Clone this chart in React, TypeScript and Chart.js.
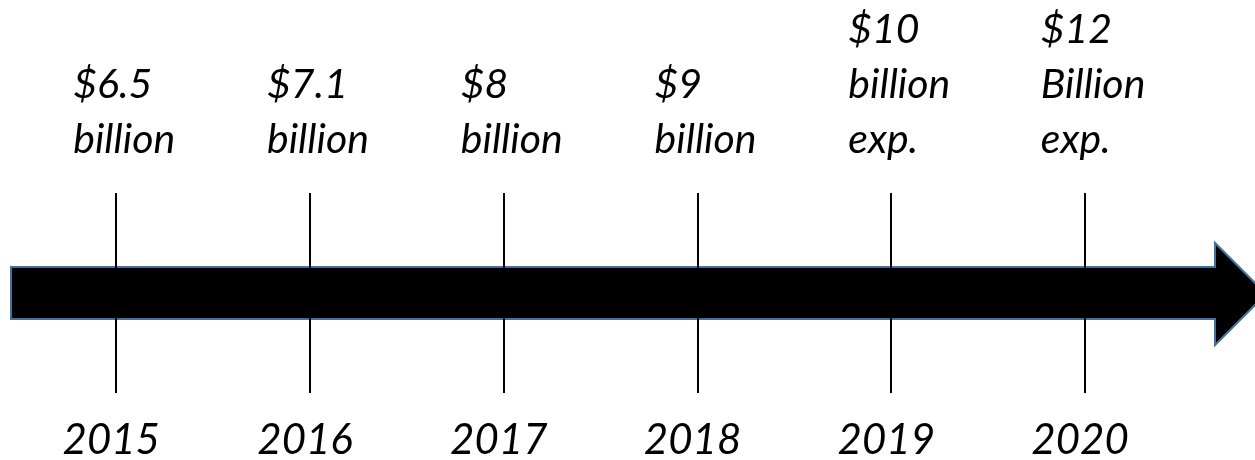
import React, { useEffect, useRef } from "react";
import { Chart, registerables } from "chart.js";

Chart.register(...registerables);

const years = [2015, 2016, 2017, 2018, 2019, 2020];
const amountLabels = ["$6.5", "$7.1", "$8", "$9", "$10", "$12"];
const unitLabels = ["billion", "billion", "billion", "billion", "billion", "Billion"];
const noteLabels = ["", "", "", "", "exp.", "exp."];
const amountValues = [6.5, 7.1, 8, 9, 10, 12];

const timelinePlugin = {
  id: "timeline",
  afterDraw(chart: any) {
    const ctx = chart.ctx as CanvasRenderingContext2D;
    const xs = chart.scales.x;
    ctx.save();

    // arrow
    const bodyLeft = 11;
    const bodyTop = 267;
    const bodyBottom = 319;
    const headX = 1215;
    const headTop = 243;
    const headBottom = 345;
    const midY = (headTop + headBottom) / 2;
    const tipX = headX + (headBottom - headTop) / 2;
    ctx.beginPath();
    ctx.moveTo(bodyLeft, bodyTop);
    ctx.lineTo(headX, bodyTop);
    ctx.lineTo(headX, headTop);
    ctx.lineTo(tipX, midY);
    ctx.lineTo(headX, headBottom);
    ctx.lineTo(headX, bodyBottom);
    ctx.lineTo(bodyLeft, bodyBottom);
    ctx.closePath();
    ctx.fillStyle = "#000000";
    ctx.fill();
    ctx.lineWidth = 2;
    ctx.strokeStyle = "#41719C";
    ctx.lineJoin = "miter";
    ctx.stroke();

    // ticks
    ctx.strokeStyle = "#000000";
    ctx.lineWidth = 2;
    years.forEach((yr) => {
      const x = Math.round(xs.getPixelForValue(yr));
      ctx.beginPath();
      ctx.moveTo(x, 193);
      ctx.lineTo(x, 393);
      ctx.stroke();
    });

    // value labels
    ctx.fillStyle = "#000000";
    ctx.textBaseline = "alphabetic";
    ctx.font = "italic 41px Lato";
    ctx.textAlign = "left";
    years.forEach((yr, i) => {
      const x = xs.getPixelForValue(yr);
      const lines = [amountLabels[i], unitLabels[i], noteLabels[i]].filter((s) => s);
      const widest = Math.max(...lines.map((s) => ctx.measureText(s).width));
      const left = x + 8 - widest / 2;
      const lastBaseline = 153;
      lines.forEach((s, j) => {
        const y = lastBaseline - (lines.length - 1 - j) * 55;
        ctx.fillText(s, left, y);
      });
    });

    // year labels
    ctx.font = "italic 42px Lato";
    ctx.textAlign = "center";
    years.forEach((yr) => {
      const x = xs.getPixelForValue(yr);
      ctx.fillText(String(yr), x - 5, 454);
    });

    ctx.restore();
  },
};

export default function App() {
  const canvasRef = useRef<HTMLCanvasElement | null>(null);

  useEffect(() => {
    document.body.style.margin = "0";
    const canvas = canvasRef.current;
    if (!canvas) return;
    const chart = new Chart(canvas, {
      type: "scatter",
      data: {
        datasets: [
          {
            label: "Market size (USD billion)",
            data: years.map((yr, i) => ({ x: yr, y: amountValues[i] })),
            pointRadius: 0,
            pointHoverRadius: 0,
            showLine: false,
          },
        ],
      },
      options: {
        responsive: false,
        animation: false,
        events: [],
        layout: { padding: 0 },
        plugins: {
          legend: { display: false },
          tooltip: { enabled: false },
          title: { display: false },
        },
        scales: {
          x: {
            type: "linear",
            display: false,
            min: 2014.4,
            max: 2020.877,
          },
          y: {
            type: "linear",
            display: false,
            min: 0,
            max: 100,
          },
        },
      },
      plugins: [timelinePlugin],
    });
    if ((document as any).fonts && (document as any).fonts.load) {
      Promise.all([
        (document as any).fonts.load("italic 41px Lato"),
        (document as any).fonts.load("italic 42px Lato"),
      ]).then(() => {
        try {
          chart.update();
        } catch (e) {}
      });
    }
    return () => {
      chart.destroy();
    };
  }, []);

  return (
    <div style={{ width: 1255, height: 460, background: "#ffffff" }}>
      <canvas ref={canvasRef} width={1255} height={460} style={{ display: "block" }} />
    </div>
  );
}
